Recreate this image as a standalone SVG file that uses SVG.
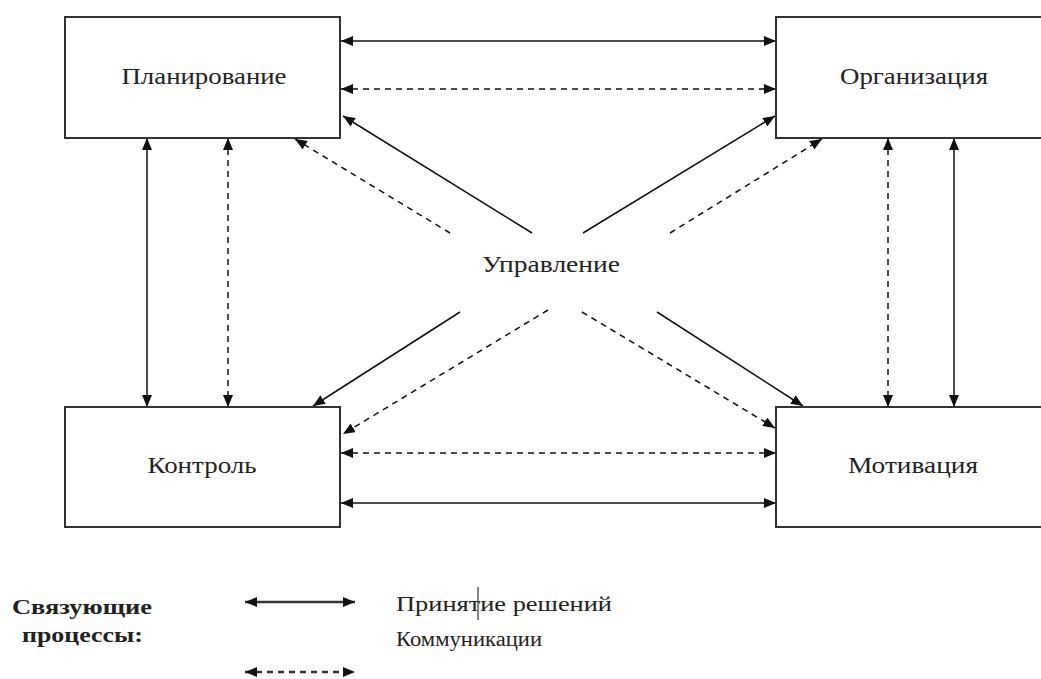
<svg xmlns="http://www.w3.org/2000/svg" width="1041" height="679" viewBox="0 0 1041 679">
<style>
.box{fill:#fff;stroke:#333;stroke-width:2}
.lbl{font-family:"Liberation Serif","Times New Roman",serif;font-size:23px;fill:#222;text-anchor:middle}
.leg{font-family:"Liberation Serif","Times New Roman",serif;font-size:20px;fill:#222}
.legb{font-family:"Liberation Serif","Times New Roman",serif;font-size:20px;font-weight:bold;fill:#222}
.s{stroke:#111;stroke-width:1.5;fill:none}
.d{stroke:#111;stroke-width:1.5;fill:none;stroke-dasharray:6 5}
.one{marker-end:url(#ah)}
.two{marker-end:url(#ah);marker-start:url(#ahs)}
</style>
<defs>
<marker id="ah" viewBox="0 0 12 10" refX="12" refY="5" markerWidth="12" markerHeight="10" markerUnits="userSpaceOnUse" orient="auto"><path d="M0,0 L12,5 L0,10 z" fill="#111"/></marker>
<marker id="ahs" viewBox="0 0 12 10" refX="12" refY="5" markerWidth="12" markerHeight="10" markerUnits="userSpaceOnUse" orient="auto-start-reverse"><path d="M0,0 L12,5 L0,10 z" fill="#111"/></marker>
</defs>
<rect width="1041" height="679" fill="#fff"/>
<g id="connectors">
<line class="s two" x1="341" y1="41" x2="776" y2="41"/>
<line class="d two" x1="341" y1="89" x2="776" y2="89"/>
<line class="d two" x1="341" y1="453" x2="776" y2="453"/>
<line class="s two" x1="341" y1="503" x2="776" y2="503"/>
<line class="s two" x1="147" y1="138" x2="147" y2="407"/>
<line class="d two" x1="228" y1="138" x2="228" y2="407"/>
<line class="d two" x1="888" y1="138" x2="888" y2="407"/>
<line class="s two" x1="954" y1="138" x2="954" y2="407"/>
<line class="s one" x1="532" y1="233" x2="343" y2="116"/>
<line class="d one" x1="450" y1="233" x2="295" y2="139"/>
<line class="s one" x1="583" y1="233" x2="775" y2="116"/>
<line class="d one" x1="670" y1="233" x2="822" y2="139"/>
<line class="s one" x1="460" y1="312" x2="313" y2="406"/>
<line class="d one" x1="548" y1="310" x2="343" y2="434"/>
<line class="d one" x1="582" y1="312" x2="775" y2="428"/>
<line class="s one" x1="657" y1="312" x2="803" y2="406"/>
</g>
<g id="planning">
<rect class="box" x="65" y="17" width="275" height="121"/>
<text class="lbl" x="204" y="84" textLength="165" lengthAdjust="spacingAndGlyphs">Планирование</text>
</g>
<g id="organization">
<rect class="box" x="776" y="17" width="276" height="121"/>
<text class="lbl" x="914" y="84" textLength="148" lengthAdjust="spacingAndGlyphs">Организация</text>
</g>
<g id="control">
<rect class="box" x="65" y="407" width="275" height="120"/>
<text class="lbl" x="202" y="473" textLength="109" lengthAdjust="spacingAndGlyphs">Контроль</text>
</g>
<g id="motivation">
<rect class="box" x="776" y="407" width="276" height="120"/>
<text class="lbl" x="913" y="473" textLength="130" lengthAdjust="spacingAndGlyphs">Мотивация</text>
</g>
<g id="management">
<text class="lbl" x="551" y="272" textLength="138" lengthAdjust="spacingAndGlyphs">Управление</text>
</g>
<g id="legend">
<text class="legb" x="12" y="614" textLength="140" lengthAdjust="spacingAndGlyphs">Связующие</text>
<text class="legb" x="22" y="642" textLength="121" lengthAdjust="spacingAndGlyphs">процессы:</text>
<line x1="245" y1="602" x2="355" y2="602" stroke="#333" stroke-width="2.5" marker-end="url(#ah)" marker-start="url(#ahs)"/>
<line x1="245" y1="672" x2="355" y2="672" stroke="#333" stroke-width="2.5" stroke-dasharray="6 5" marker-end="url(#ah)" marker-start="url(#ahs)"/>
<text class="leg" x="396" y="611" textLength="216" lengthAdjust="spacingAndGlyphs">Принятие решений</text>
<line x1="478" y1="587" x2="478" y2="620" stroke="#333" stroke-width="1.2"/>
<text class="leg" x="396" y="646" textLength="146" lengthAdjust="spacingAndGlyphs">Коммуникации</text>
</g>
</svg>
